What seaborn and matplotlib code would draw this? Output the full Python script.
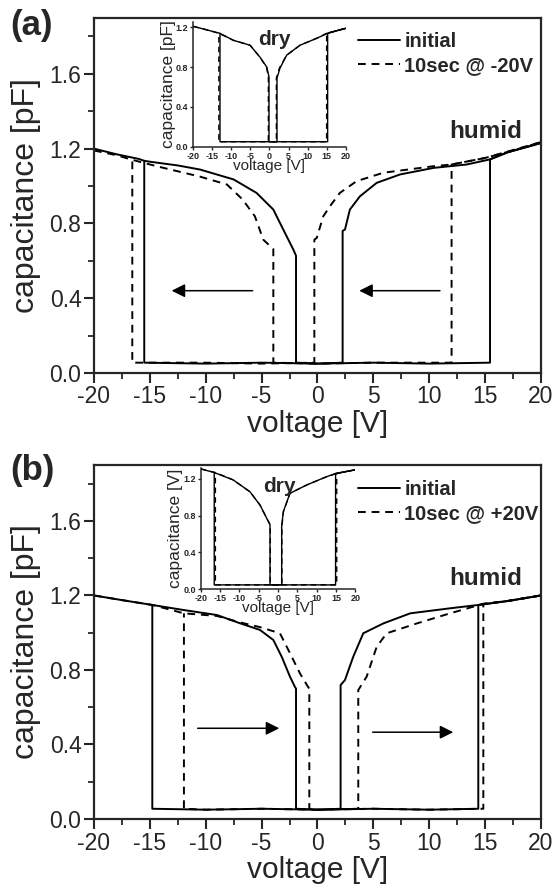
import matplotlib
matplotlib.use("Agg")
import matplotlib.pyplot as plt
import seaborn as sns
from matplotlib.lines import Line2D
from matplotlib.ticker import MultipleLocator, FormatStrFormatter

sns.set_style("ticks")
plt.rcParams["font.family"] = ["Liberation Sans", "DejaVu Sans"]
plt.rcParams["axes.unicode_minus"] = False

# ---- panel (a): main, humid ----
a_init_fwd_v = [-20, -18, -16, -15.5, -15, -12.5, -10.5, -7.5, -5.45, -3.95, -3.06, -2.16, -1.92, -1.92, 0, 5, 10, 15.44, 15.44, 17, 20]
a_init_fwd_c = [1.20, 1.17, 1.145, 1.135, 1.13, 1.11, 1.088, 1.035, 0.963, 0.874, 0.767, 0.66, 0.627, 0.055, 0.05, 0.055, 0.05, 0.055, 1.142, 1.18, 1.23]
a_init_bwd_v = [20, 17, 15.4, 13.35, 10.4, 7.4, 5.3, 3.8, 2.9, 2.46, 2.25, 2.25, 0, -5, -10, -15.5, -15.5]
a_init_bwd_c = [1.23, 1.18, 1.142, 1.115, 1.097, 1.062, 1.017, 0.945, 0.874, 0.767, 0.76, 0.055, 0.05, 0.055, 0.05, 0.055, 1.13]
a_str_fwd_v = [-20, -18, -16.57, -14.4, -10.5, -8.1, -6.7, -5.6, -4.85, -3.95, -3.95, 0, 5, 12.0, 12.0, 15, 17.5, 20]
a_str_fwd_c = [1.19, 1.165, 1.14, 1.106, 1.05, 1.008, 0.928, 0.838, 0.713, 0.663, 0.055, 0.05, 0.055, 0.055, 1.115, 1.15, 1.19, 1.235]
a_str_bwd_v = [20, 15, 12.0, 10.4, 5.9, 3.5, 2.0, 1.12, 0.52, -0.07, -0.28, -0.28, -5, -10, -16.57, -16.57]
a_str_bwd_c = [1.235, 1.15, 1.115, 1.106, 1.071, 1.026, 0.963, 0.892, 0.838, 0.722, 0.713, 0.055, 0.05, 0.055, 0.055, 1.14]
a_arrows = [(-5.8, -13.05, 0.44), (10.96, 3.74, 0.44)]

# ---- panel (a): inset, dry ----
ai_init_fwd_v = [-20, -16, -13.0, -9.5, -5.1, -2.5, -0.7, -0.13, -0.13, 5, 10, 15.27, 15.27, 17.5, 20]
ai_init_fwd_c = [1.21, 1.17, 1.14, 1.07, 1.02, 0.90, 0.80, 0.70, 0.05, 0.05, 0.05, 0.05, 1.14, 1.165, 1.19]
ai_init_bwd_v = [20, 15.27, 12.4, 8.0, 4.5, 2.76, 1.97, 1.97, -5, -13.0, -13.0]
ai_init_bwd_c = [1.19, 1.14, 1.09, 1.02, 0.92, 0.79, 0.69, 0.05, 0.05, 0.05, 1.14]
ai_str_fwd_v = [-20, -16, -13.3, -9.5, -5.1, -2.5, -0.8, -0.3, -0.3, 5, 10, 15.0, 15.0, 17.5, 20]
ai_str_fwd_c = [1.21, 1.17, 1.14, 1.07, 1.02, 0.90, 0.80, 0.70, 0.05, 0.05, 0.05, 0.05, 1.14, 1.165, 1.19]
ai_str_bwd_v = [20, 15.0, 12.4, 8.0, 4.5, 2.6, 1.8, 1.8, -5, -13.3, -13.3]
ai_str_bwd_c = [1.19, 1.14, 1.09, 1.02, 0.92, 0.79, 0.69, 0.05, 0.05, 0.05, 1.14]

# ---- panel (b): main, humid ----
b_init_fwd_v = [-20, -17.5, -14.78, -12.0, -9.0, -6.9, -5.15, -3.95, -3.2, -2.46, -2.0, -1.92, -1.92, 0, 5, 10, 14.39, 14.39, 17, 20]
b_init_fwd_c = [1.20, 1.175, 1.149, 1.122, 1.095, 1.05, 1.015, 0.961, 0.871, 0.764, 0.707, 0.70, 0.055, 0.05, 0.055, 0.05, 0.055, 1.149, 1.17, 1.20]
b_init_bwd_v = [20, 17, 14.39, 11.86, 8.3, 5.9, 4.1, 3.2, 2.46, 2.07, 2.07, 0, -5, -10, -14.78, -14.78]
b_init_bwd_c = [1.20, 1.17, 1.149, 1.131, 1.104, 1.05, 0.997, 0.871, 0.746, 0.719, 0.055, 0.05, 0.055, 0.05, 0.055, 1.149]
b_str_fwd_v = [-20, -17.5, -14.78, -11.95, -9.0, -6.9, -5.15, -3.36, -2.46, -1.57, -0.82, -0.73, -0.73, 0, 5, 10, 14.84, 14.84, 17, 20]
b_str_fwd_c = [1.20, 1.175, 1.149, 1.104, 1.09, 1.055, 1.03, 0.997, 0.89, 0.782, 0.707, 0.70, 0.055, 0.05, 0.055, 0.05, 0.055, 1.155, 1.17, 1.20]
b_str_bwd_v = [20, 17, 14.84, 11.86, 8.9, 6.2, 5.3, 4.4, 3.65, 3.65, 0, -5, -10, -11.95, -11.95]
b_str_bwd_c = [1.20, 1.17, 1.155, 1.104, 1.05, 0.997, 0.925, 0.764, 0.692, 0.055, 0.05, 0.055, 0.05, 0.055, 1.104]
b_arrows = [(-10.72, -3.42, 0.487), (4.94, 12.15, 0.466)]

# ---- panel (b): inset, dry ----
bi_init_fwd_v = [-20, -16.5, -11.6, -7.25, -4.66, -2.9, -2.07, -2.07, 5, 14.9, 14.9, 17.5, 20]
bi_init_fwd_c = [1.31, 1.27, 1.19, 1.06, 0.916, 0.77, 0.70, 0.045, 0.045, 0.045, 1.26, 1.28, 1.30]
bi_init_bwd_v = [20, 14.9, 12.6, 7.4, 3.1, 1.37, 0.95, 0.95, -5, -16.5, -16.5]
bi_init_bwd_c = [1.30, 1.26, 1.225, 1.134, 1.044, 0.843, 0.68, 0.045, 0.045, 0.045, 1.27]
bi_str_fwd_v = [-20, -16.2, -11.6, -7.25, -4.66, -2.9, -2.0, -2.0, 5, 15.2, 15.2, 17.5, 20]
bi_str_fwd_c = [1.31, 1.27, 1.19, 1.06, 0.916, 0.77, 0.70, 0.045, 0.045, 0.045, 1.26, 1.28, 1.30]
bi_str_bwd_v = [20, 15.2, 12.6, 7.4, 3.1, 1.4, 1.0, 1.0, -5, -16.2, -16.2]
bi_str_bwd_c = [1.30, 1.26, 1.225, 1.134, 1.044, 0.843, 0.68, 0.045, 0.045, 0.045, 1.27]

volt_ticks = [-20, -15, -10, -5, 0, 5, 10, 15, 20]
cap_ticks = [0.0, 0.4, 0.8, 1.2]

SOLID = "-"
DASHED = (0, (4, 3))


def draw_curves(ax, curves, lw):
    for v, c, ls in curves:
        sns.lineplot(x=v, y=c, ax=ax, sort=False, estimator=None,
                     color="black", lw=lw, linestyle=ls)


def style_main(ax, curves, arrows, stress_label):
    draw_curves(ax, curves, 1.4)
    for x0, x1, y in arrows:
        ax.annotate("", xy=(x1, y), xytext=(x0, y),
                    arrowprops=dict(arrowstyle="-|>", color="black", lw=1.1,
                                    mutation_scale=20, shrinkA=0, shrinkB=0))
    ax.set_xlim(-20, 20)
    ax.set_ylim(0, 1.9)
    ax.set_xticks(volt_ticks)
    ax.xaxis.set_minor_locator(MultipleLocator(2.5))
    ax.yaxis.set_major_locator(MultipleLocator(0.4))
    ax.yaxis.set_minor_locator(MultipleLocator(0.2))
    ax.yaxis.set_major_formatter(FormatStrFormatter("%.1f"))
    ax.tick_params(which="major", direction="out", length=7, width=1.5,
                   labelsize=16.5, pad=2)
    ax.tick_params(which="minor", direction="out", length=4, width=1.3)
    for sp in ax.spines.values():
        sp.set_linewidth(1.6)
        sp.set_visible(True)
    ax.set_xlabel("voltage [V]", fontsize=21.5, labelpad=1)
    ax.set_ylabel("capacitance [pF]", fontsize=23, labelpad=6)
    handles = [Line2D([], [], color="black", lw=1.4, linestyle=SOLID),
               Line2D([], [], color="black", lw=1.4, linestyle=DASHED)]
    ax.legend(handles, ["initial", stress_label], loc="upper left",
              bbox_to_anchor=(0.55, 1.01), frameon=False, handlelength=2.1,
              handletextpad=0.2, labelspacing=0.25,
              prop=dict(weight="bold", size=14.5))
    ax.text(0.957, 0.662, "humid", transform=ax.transAxes, ha="right",
            va="baseline", fontsize=17.5, fontweight="bold")


def style_inset(ax, curves, ylim, ylabel, dry_xy):
    draw_curves(ax, curves, 1.0)
    ax.set_facecolor("none")
    ax.set_xlim(-20, 20)
    ax.set_ylim(0, ylim)
    ax.set_xticks(volt_ticks)
    ax.set_yticks(cap_ticks)
    ax.yaxis.set_major_formatter(FormatStrFormatter("%.1f"))
    ax.tick_params(direction="out", length=2.5, width=1.0, labelsize=6.5,
                   pad=1)
    for lab in ax.get_xticklabels() + ax.get_yticklabels():
        lab.set_fontweight("bold")
    ax.spines["top"].set_visible(False)
    ax.spines["right"].set_visible(False)
    for s in ("left", "bottom"):
        ax.spines[s].set_linewidth(1.1)
    ax.set_xlabel("voltage [V]", fontsize=11, labelpad=-1)
    ax.set_ylabel(ylabel, fontsize=12.5, labelpad=0)
    ax.text(dry_xy[0], dry_xy[1], "dry", transform=ax.transAxes, ha="center",
            va="baseline", fontsize=15, fontweight="bold")


fig = plt.figure(figsize=(5.56, 8.88), dpi=100)

ax_a = fig.add_axes([0.169, 0.580, 0.804, 0.400])
style_main(ax_a, [(a_init_fwd_v, a_init_fwd_c, SOLID), (a_init_bwd_v, a_init_bwd_c, SOLID),
                  (a_str_fwd_v, a_str_fwd_c, DASHED), (a_str_bwd_v, a_str_bwd_c, DASHED)],
           a_arrows, "10sec @ -20V")
ax_ai = fig.add_axes([0.3477, 0.8348, 0.274, 0.140])
style_inset(ax_ai, [(ai_init_fwd_v, ai_init_fwd_c, SOLID), (ai_init_bwd_v, ai_init_bwd_c, SOLID),
                    (ai_str_fwd_v, ai_str_fwd_c, DASHED), (ai_str_bwd_v, ai_str_bwd_c, DASHED)],
            1.25, "capacitance [pF]", (0.53, 0.82))

ax_b = fig.add_axes([0.169, 0.0777, 0.804, 0.3986])
style_main(ax_b, [(b_init_fwd_v, b_init_fwd_c, SOLID), (b_init_bwd_v, b_init_bwd_c, SOLID),
                  (b_str_fwd_v, b_str_fwd_c, DASHED), (b_str_bwd_v, b_str_bwd_c, DASHED)],
           b_arrows, "10sec @ +20V")
ax_bi = fig.add_axes([0.361, 0.3367, 0.278, 0.1363])
style_inset(ax_bi, [(bi_init_fwd_v, bi_init_fwd_c, SOLID), (bi_init_bwd_v, bi_init_bwd_c, SOLID),
                    (bi_str_fwd_v, bi_str_fwd_c, DASHED), (bi_str_bwd_v, bi_str_bwd_c, DASHED)],
            1.32, "capacitance [V]", (0.506, 0.80))

fig.text(0.018, 0.99, "(a)", fontsize=25, fontweight="bold", va="top")
fig.text(0.018, 0.489, "(b)", fontsize=25, fontweight="bold", va="top")

fig.savefig("out.png", dpi=100)
